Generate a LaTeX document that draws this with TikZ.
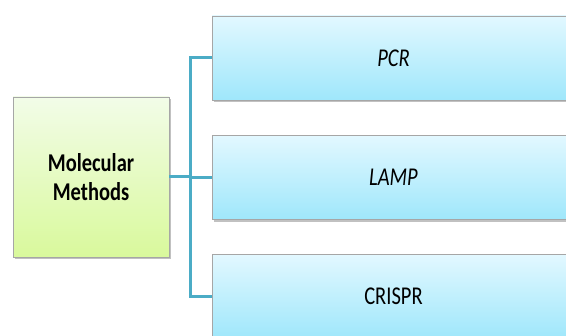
\documentclass[tikz,border=0pt]{standalone}
\usepackage{fontspec}
\setmainfont{Carlito}
\usetikzlibrary{shadows}
\definecolor{conn}{HTML}{4BACC6}
\definecolor{bordergray}{HTML}{A6A6A6}
\definecolor{bluetop}{HTML}{E2F8FF}
\definecolor{bluebot}{HTML}{9FE7FB}
\definecolor{greentop}{HTML}{F2FCE8}
\definecolor{greenbot}{HTML}{D9F99C}
\tikzset{
  rootbox/.style={draw=bordergray, line width=0.8pt, top color=greentop, bottom color=greenbot,
    minimum width=156pt, minimum height=160pt, inner sep=0pt, align=center,
    drop shadow={shadow xshift=1.5pt, shadow yshift=-2.5pt, opacity=0.4, fill=black!60},
    font=\fontsize{20.5}{30}\selectfont\bfseries},
  leafbox/.style={draw=bordergray, line width=0.8pt, top color=bluetop, bottom color=bluebot,
    minimum width=363pt, minimum height=84pt, inner sep=0pt,
    drop shadow={shadow xshift=1.5pt, shadow yshift=-2.5pt, opacity=0.4, fill=black!60},
    font=\fontsize{20.5}{30}\selectfont},
  connector/.style={draw=conn, line width=3pt}
}
\newcommand{\tallt}[1]{\scalebox{1}[1.25]{#1}}
\begin{document}
\begin{tikzpicture}[x=1pt, y=-1pt]
\useasboundingbox (0,0) rectangle (566,336);
\clip (0,0) rectangle (566,336);
\fill[white] (0,0) rectangle (566,336);
\node[rootbox] (root) at (91,177) {\tallt{Molecular}\\[-1pt]\tallt{Methods}};
\node[leafbox] (pcr) at (393.5,58) {\tallt{\itshape PCR}};
\node[leafbox] (lamp) at (393.5,177.5) {\tallt{\itshape LAMP}};
\node[leafbox] (crispr) at (393.5,296.5) {\tallt{CRISPR}};
\coordinate (j) at (190,177);
\draw[connector] (root.east) -- (j);
\draw[connector] (j) |- (pcr.west);
\draw[connector] (j) |- (lamp.west);
\draw[connector] (j) |- (crispr.west);
\end{tikzpicture}
\end{document}
